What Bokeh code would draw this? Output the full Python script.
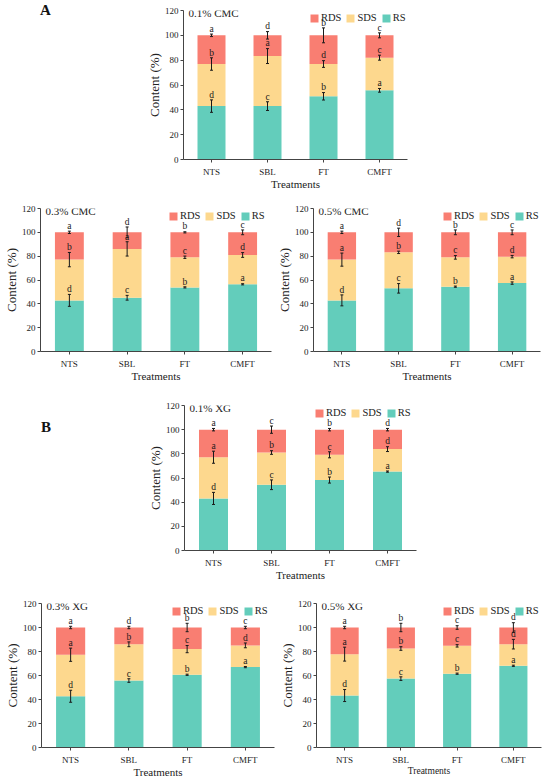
from bokeh.plotting import figure
from bokeh.models import (FactorRange, Range1d, Whisker, TeeHead, ColumnDataSource,
                          Label, Legend, LegendItem, FixedTicker, Div)
from bokeh.layouts import column, row
from bokeh.embed import file_html
from bokeh.resources import INLINE
from bokeh.core.properties import value

FONT = "Liberation Serif"
treatments = ["NTS", "SBL", "FT", "CMFT"]
yticks = [0, 20, 40, 60, 80, 100, 120]
series_names = ["RS", "SDS", "RDS"]
series_colors = ["#63CDBB", "#FDD88E", "#F97E72"]

# ---- A: CMC ----
cmc01_title = "0.1% CMC"
cmc01_rs = [43.0, 43.0, 50.9, 55.7]
cmc01_sds = [33.9, 40.3, 26.0, 26.3]
cmc01_rds = [23.1, 16.7, 23.1, 18.0]
cmc01_rs_err = [5.0, 3.5, 3.0, 1.5]
cmc01_sds_err = [5.0, 6.0, 2.7, 2.0]
cmc01_rds_err = [1.0, 3.0, 6.0, 2.0]
cmc01_rs_sig = ["d", "c", "b", "a"]
cmc01_sds_sig = ["b", "a", "d", "c"]
cmc01_rds_sig = ["a", "d", "b", "c"]

cmc03_title = "0.3% CMC"
cmc03_rs = [42.9, 45.1, 53.8, 56.4]
cmc03_sds = [34.2, 41.0, 25.3, 24.6]
cmc03_rds = [22.9, 13.9, 20.9, 19.0]
cmc03_rs_err = [5.0, 2.0, 0.5, 0.5]
cmc03_sds_err = [6.0, 6.0, 1.0, 2.0]
cmc03_rds_err = [1.0, 4.5, 0.5, 2.0]
cmc03_rs_sig = ["d", "c", "b", "a"]
cmc03_sds_sig = ["b", "a", "c", "d"]
cmc03_rds_sig = ["a", "d", "b", "c"]

cmc05_title = "0.5% CMC"
cmc05_rs = [42.9, 53.0, 54.4, 57.4]
cmc05_sds = [34.2, 30.2, 24.6, 22.2]
cmc05_rds = [22.9, 16.8, 21.0, 20.4]
cmc05_rs_err = [4.6, 4.0, 0.5, 1.0]
cmc05_sds_err = [5.5, 1.0, 1.5, 1.0]
cmc05_rds_err = [1.0, 3.5, 2.0, 2.0]
cmc05_rs_sig = ["d", "c", "b", "a"]
cmc05_sds_sig = ["a", "b", "c", "d"]
cmc05_rds_sig = ["a", "d", "b", "c"]

# ---- B: XG ----
xg01_title = "0.1% XG"
xg01_rs = [43.1, 54.4, 58.3, 65.3]
xg01_sds = [34.1, 26.7, 20.9, 18.6]
xg01_rds = [22.8, 18.9, 20.8, 16.1]
xg01_rs_err = [5.0, 4.0, 2.5, 0.5]
xg01_sds_err = [5.0, 1.5, 2.5, 2.0]
xg01_rds_err = [1.0, 3.0, 1.0, 1.0]
xg01_rs_sig = ["d", "c", "b", "a"]
xg01_sds_sig = ["a", "b", "c", "d"]
xg01_rds_sig = ["a", "c", "b", "d"]

xg03_title = "0.3% XG"
xg03_rs = [42.7, 55.8, 60.6, 67.0]
xg03_sds = [34.6, 30.2, 21.4, 18.1]
xg03_rds = [22.7, 14.0, 18.0, 14.9]
xg03_rs_err = [5.0, 1.5, 0.5, 0.5]
xg03_sds_err = [5.5, 2.0, 3.0, 2.0]
xg03_rds_err = [1.0, 1.0, 3.5, 1.0]
xg03_rs_sig = ["d", "c", "b", "a"]
xg03_sds_sig = ["a", "b", "c", "d"]
xg03_rds_sig = ["a", "d", "b", "c"]

xg05_title = "0.5% XG"
xg05_rs = [43.3, 57.4, 61.5, 68.1]
xg05_sds = [34.5, 25.1, 23.2, 18.0]
xg05_rds = [22.2, 17.5, 15.3, 13.9]
xg05_rs_err = [5.0, 1.5, 0.5, 0.5]
xg05_sds_err = [5.8, 1.5, 1.0, 4.0]
xg05_rds_err = [1.0, 3.5, 1.5, 4.0]
xg05_rs_sig = ["d", "c", "b", "a"]
xg05_sds_sig = ["a", "b", "c", "d"]
xg05_rds_sig = ["a", "b", "c", "d"]

LEG_W = 97
LEG_H = 13


def panel(title, rs, sds, rds, e_rs, e_sds, e_rds, s_rs, s_sds, s_rds,
          width, height, bl, br, bt, bb, leg_dx, xlab_size="11px"):
    fw = width - bl - br
    fh = height - bt - bb
    p = figure(x_range=FactorRange(factors=treatments), y_range=Range1d(0, 120),
               width=width, height=height, output_backend="svg", toolbar_location=None,
               min_border_left=bl, min_border_right=br, min_border_top=bt, min_border_bottom=bb)
    src = ColumnDataSource(dict(t=treatments, RS=rs, SDS=sds, RDS=rds))
    rends = p.vbar_stack(series_names, x="t", width=0.5, source=src,
                         fill_color=series_colors, line_color=None)

    top_rs = list(rs)
    top_sds = [a + b for a, b in zip(rs, sds)]
    top_rds = [a + b + c for a, b, c in zip(rs, sds, rds)]
    ys = top_rs + top_sds + top_rds
    es = list(e_rs) + list(e_sds) + list(e_rds)
    labs = list(s_rs) + list(s_sds) + list(s_rds)
    esrc = ColumnDataSource(dict(
        t=treatments * 3,
        up=[y + e for y, e in zip(ys, es)],
        lo=[y - e for y, e in zip(ys, es)],
        ly=[y + e + 0.2 for y, e in zip(ys, es)],
        lab=labs))
    p.add_layout(Whisker(base="t", upper="up", lower="lo", source=esrc, level="overlay",
                         line_color="#1a1a1a", line_width=1,
                         upper_head=TeeHead(size=3, line_color="#1a1a1a", line_width=1),
                         lower_head=TeeHead(size=3, line_color="#1a1a1a", line_width=1)))
    p.text(x="t", y="ly", text="lab", source=esrc, text_font=value(FONT),
           text_font_size="9.5px", text_align="center", text_baseline="bottom",
           text_color="#1a1a1a")

    legend = Legend(items=[LegendItem(label="RDS", renderers=[rends[2]]),
                           LegendItem(label="SDS", renderers=[rends[1]]),
                           LegendItem(label="RS", renderers=[rends[0]])],
                    orientation="horizontal",
                    location=(fw + leg_dx - LEG_W, fh - LEG_H),
                    background_fill_alpha=0, border_line_color=None,
                    label_text_font=FONT, label_text_font_size="10.5px",
                    label_text_color="#222222",
                    glyph_width=10, glyph_height=10, label_standoff=2, spacing=4,
                    padding=0, margin=0, label_height=10, label_width=0)
    p.add_layout(legend)

    p.add_layout(Label(x=5, x_units="screen", y=118, y_units="data", text=title,
                       text_font=FONT, text_font_size="11px", text_baseline="middle",
                       text_color="#222222"))

    for ax in (p.xaxis[0], p.yaxis[0]):
        ax.axis_line_color = "#444444"
        ax.major_tick_line_color = "#444444"
        ax.minor_tick_line_color = None
        ax.major_tick_in = 0
        ax.major_tick_out = 3
        ax.major_label_text_font = FONT
        ax.major_label_text_font_size = "9px"
        ax.major_label_text_color = "#222222"
        ax.axis_label_text_font = FONT
        ax.axis_label_text_font_style = "normal"
        ax.axis_label_text_color = "#222222"
    p.yaxis.major_label_standoff = 2
    p.yaxis.axis_label_standoff = 0
    p.xaxis.major_label_standoff = 4
    p.xaxis.axis_label_standoff = -2
    p.yaxis.ticker = FixedTicker(ticks=yticks)
    p.xaxis.axis_label = "Treatments"
    p.xaxis.axis_label_text_font_size = xlab_size
    p.yaxis.axis_label = "Content (%)"
    p.yaxis.axis_label_text_font_size = "13px"
    p.xgrid.visible = False
    p.ygrid.visible = False
    p.outline_line_color = None
    p.background_fill_color = "white"
    return p


def panel_letter(letter, top, left):
    return Div(text=letter, width=20, height=20, margin=(top, 0, 0, left),
               styles={"font-family": FONT, "font-size": "15px", "font-weight": "bold",
                       "line-height": "15px", "color": "#111111"})


a1 = panel(cmc01_title, cmc01_rs, cmc01_sds, cmc01_rds, cmc01_rs_err, cmc01_sds_err,
           cmc01_rds_err, cmc01_rs_sig, cmc01_sds_sig, cmc01_rds_sig,
           355, 192, 123, 8, 10, 33, -1)
a2 = panel(cmc03_title, cmc03_rs, cmc03_sds, cmc03_rds, cmc03_rs_err, cmc03_sds_err,
           cmc03_rds_err, cmc03_rs_sig, cmc03_sds_sig, cmc03_rds_sig,
           273, 192, 37, 2, 16, 33, -9)
a3 = panel(cmc05_title, cmc05_rs, cmc05_sds, cmc05_rds, cmc05_rs_err, cmc05_sds_err,
           cmc05_rds_err, cmc05_rs_sig, cmc05_sds_sig, cmc05_rds_sig,
           275, 192, 34, 8, 16, 33, -7)
b1 = panel(xg01_title, xg01_rs, xg01_sds, xg01_rds, xg01_rs_err, xg01_sds_err,
           xg01_rds_err, xg01_rs_sig, xg01_sds_sig, xg01_rds_sig,
           357, 199, 123, 2, 21, 33, -5)
b2 = panel(xg03_title, xg03_rs, xg03_sds, xg03_rds, xg03_rs_err, xg03_sds_err,
           xg03_rds_err, xg03_rs_sig, xg03_sds_sig, xg03_rds_sig,
           276, 197, 41, 2, 20, 33, -6)
b3 = panel(xg05_title, xg05_rs, xg05_sds, xg05_rds, xg05_rs_err, xg05_sds_err,
           xg05_rds_err, xg05_rs_sig, xg05_sds_sig, xg05_rds_sig,
           272, 197, 34, 7, 20, 33, -8, xlab_size="9.5px")

layout = column(row(panel_letter("A", 3, 40), a1),
                row(a2, a3),
                row(panel_letter("B", 36, 41), b1),
                row(b2, b3))
open("out.html", "w").write(file_html(layout, INLINE))
